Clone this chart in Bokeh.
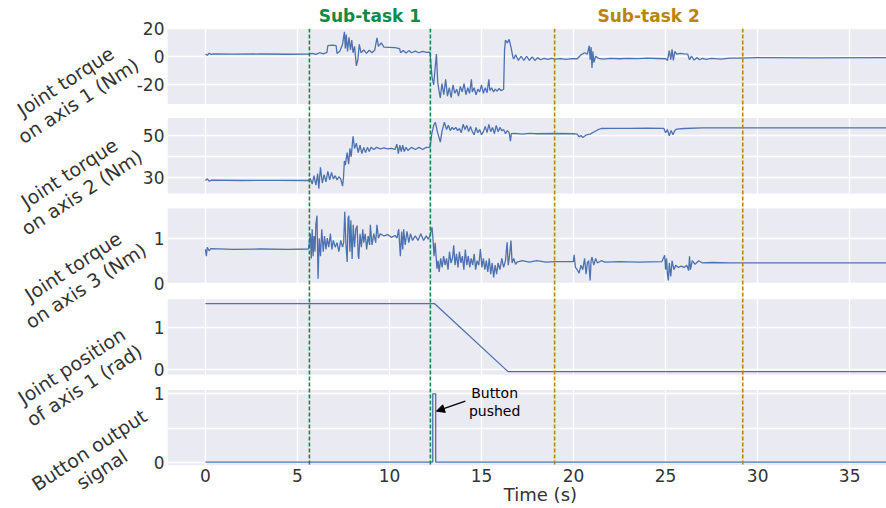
from bokeh.plotting import figure
from bokeh.models import Range1d, FixedTicker, Label, Span, Arrow, NormalHead
from bokeh.core.properties import value
from bokeh.embed import file_html
from bokeh.resources import INLINE

# ---------------- data ----------------
T_TQ1 = [0.0, 0.1, 0.2, 0.3, 0.45, 1.5, 3.0, 4.5, 5.6,
         5.8, 6.0, 6.2, 6.4, 6.6, 6.65, 6.9, 7.1,
         7.15, 7.3, 7.45, 7.55, 7.6, 7.65, 7.72, 7.8, 7.88, 7.95, 8.02, 8.1, 8.2, 8.28, 8.36, 8.45, 8.6, 8.75, 8.9,
         9.05, 9.2, 9.32, 9.4, 9.55, 9.7, 10.0, 10.3, 10.55, 10.6, 10.75, 10.9, 11.05, 11.2, 11.4, 11.6, 11.8, 12.0, 12.2,
         12.31, 12.4, 12.48, 12.55, 12.62, 12.7, 12.76, 12.85, 12.95, 13.05, 13.15, 13.25, 13.35, 13.45, 13.55, 13.65,
         13.75, 13.85, 13.95, 14.05, 14.15, 14.25, 14.35, 14.45, 14.5, 14.6, 14.7, 14.8, 14.9, 15.0, 15.1, 15.2, 15.3,
         15.4, 15.45, 15.55, 15.65, 15.75, 15.85, 15.95, 16.05, 16.15, 16.2,
         16.25, 16.3, 16.4, 16.5, 16.6, 16.7, 16.75, 16.85, 17.0, 17.15, 17.3, 17.45, 17.6, 17.75, 17.9, 18.05, 18.2,
         18.4, 18.6, 18.8, 19.0, 19.3, 19.6, 19.9, 20.2,
         20.4, 20.6, 20.75, 20.85, 20.9, 20.95, 21.0, 21.05, 21.1, 21.2, 21.35, 21.6, 22.0, 22.5, 23.0, 23.5, 24.0,
         24.5, 25.0, 25.1, 25.2, 25.28, 25.35, 25.42, 25.5, 25.6, 25.8, 26.0, 26.2, 26.3, 26.4, 26.55, 26.7, 26.85,
         27.0, 27.2, 27.5, 28.0, 28.5, 29.0, 30.0, 33.0, 37.5]
TQ1 = [2.0, 1.2, 2.6, 1.8, 2.2, 2.0, 2.1, 1.9, 2.0,
       2.6, 1.8, 3.0, 2.2, 3.2, 8.0, 8.5, 8.0,
       2.5, 4.0, 9.0, 18.0, 6.0, 16.0, 4.0, 14.0, 5.0, 12.0, 3.0, 7.5, -6.4, -2.0, 9.0, 3.0, 5.0, 2.5, 4.8,
       3.0, 5.0, 13.7, 7.5, 10.0, 7.0, 6.8, 6.6, 6.0, 3.0, 4.6, 2.8, 4.5, 3.0, 4.2, 3.0, 4.0, 3.2, 3.4,
       -14.3, -20.0, -8.0, 2.0, -18.0, -25.0, -29.3, -19.0, -27.0, -16.0, -28.0, -22.0, -29.0, -20.0, -26.0, -23.0,
       -28.0, -21.0, -25.0, -19.0, -27.0, -22.0, -26.0, -16.0, -25.0, -22.0, -27.0, -23.0, -25.0, -20.0, -26.0, -22.0, -25.5,
       -16.0, -24.0, -22.0, -25.0, -23.0, -24.5, -22.5, -24.0, -23.5, -23.0,
       5.0, 12.0, 10.0, 12.5, 7.0, 0.0, -1.5, 1.5, -2.5, 0.5, -2.5, 0.5, -2.5, 0.0, -2.5, -0.5, -2.0,
       -1.0, -1.8, -1.0, -1.6, -1.2, -1.8, -1.2, -1.3,
       1.5, 3.0, 2.0, 8.0, -2.0, 7.0, -7.8, 4.0, -4.0, 0.5, -1.0, -1.5, -1.0, -1.3, -1.0, -1.2, -0.9,
       -1.1, -1.3, -2.5, 4.5, -2.0, 5.4, -2.5, 4.0, 2.0, 2.5, 2.2, 2.0, -2.0, 0.5, -2.2, -0.5, -2.0,
       -1.0, -1.8, -1.0, -1.5, -0.8, -0.8, -0.5, -0.6, -0.5]

T_TQ2 = [0.0, 0.1, 0.2, 0.35, 2.0, 4.0, 5.6,
         5.7, 5.8, 5.9, 6.0, 6.1, 6.16, 6.25, 6.35, 6.45, 6.55, 6.65, 6.75, 6.85, 6.95, 7.05, 7.15, 7.25, 7.35, 7.45, 7.5,
         7.55, 7.6, 7.7, 7.78, 7.85, 7.92, 8.02, 8.1, 8.2, 8.3, 8.4, 8.5, 8.6, 8.7, 8.8, 8.9, 9.0, 9.15, 9.3, 9.5, 9.7,
         9.9, 10.1, 10.3, 10.4, 10.48, 10.56, 10.64, 10.72, 10.8, 10.9, 11.0, 11.2, 11.4, 11.6, 11.8, 12.0, 12.2,
         12.3, 12.4, 12.49, 12.6, 12.76, 12.85, 12.98, 13.1, 13.2, 13.3, 13.4, 13.5, 13.6, 13.7, 13.8, 13.9, 14.0, 14.1,
         14.2, 14.3, 14.4, 14.5, 14.6, 14.7, 14.8, 14.9, 15.0, 15.1, 15.2, 15.3, 15.4, 15.5, 15.6, 15.7, 15.8, 15.9,
         16.0, 16.1, 16.2, 16.3, 16.4, 16.5, 16.57, 16.62, 16.8, 17.2, 17.6, 18.0, 19.0, 20.0, 20.2, 20.3, 20.4, 20.5,
         20.7, 20.9, 21.1, 21.3, 21.5, 22.0, 23.0, 24.0, 24.9, 25.0, 25.1, 25.2, 25.3, 25.4, 25.5, 25.6, 26.0, 27.0, 37.5]
TQ2 = [28.7, 29.5, 28.4, 28.9, 28.7, 28.8, 28.7,
       29.5, 27.0, 31.0, 26.5, 32.0, 24.8, 35.0, 27.5, 31.5, 28.0, 33.0, 29.0, 32.5, 29.5, 31.0, 29.0, 30.5, 29.5, 26.0, 30.0,
       38.0, 36.0, 42.0, 36.5, 44.0, 40.0, 49.8, 44.0, 46.5, 42.0, 45.5, 41.5, 44.5, 42.0, 44.5, 42.5, 44.5, 43.5, 44.5, 43.8, 44.2,
       43.8, 44.0, 43.5, 46.0, 41.5, 45.5, 42.5, 45.5, 42.5, 44.5, 43.0, 44.5, 43.5, 44.5, 43.5, 44.5, 44.5,
       51.0, 55.0, 56.5, 52.0, 47.0, 52.0, 56.5, 53.0, 55.0, 52.5, 54.0, 53.0, 54.0, 52.5, 53.5, 51.5, 55.5, 53.0,
       55.0, 52.0, 54.5, 52.0, 50.5, 54.0, 51.5, 53.0, 50.5, 52.0, 54.5, 51.5, 55.5, 52.0, 54.0, 51.0, 55.0, 52.0,
       54.0, 52.5, 53.0, 51.0, 52.5, 51.5, 47.5, 51.0, 51.2, 50.8, 51.2, 51.0, 51.1, 51.0, 50.8, 49.5, 50.2, 49.2,
       50.5, 50.8, 51.8, 52.8, 53.5, 53.6, 53.6, 53.7, 53.6, 51.5, 53.0, 50.0, 52.5, 50.5, 52.5, 53.2, 53.5, 53.8, 53.8]

T_TQ3 = [0.0, 0.05, 0.1, 0.2, 0.3, 1.5, 3.0, 4.5, 5.6,
         5.7, 5.75, 5.8, 5.85, 5.9, 5.95, 6.0, 6.06, 6.12, 6.18, 6.25, 6.32, 6.4, 6.47, 6.55, 6.62, 6.7, 6.79, 6.87,
         6.95, 7.05, 7.15, 7.25, 7.35, 7.45, 7.51, 7.57, 7.63, 7.7, 7.75, 7.79, 7.85, 7.9, 7.97, 8.03, 8.1, 8.17, 8.24,
         8.3, 8.33, 8.4, 8.47, 8.55, 8.6, 8.68, 8.76, 8.84, 8.92, 8.96, 9.05, 9.15, 9.25, 9.32, 9.4, 9.5, 9.7, 9.9,
         10.1, 10.3, 10.41, 10.5, 10.59, 10.66, 10.72, 10.77, 10.85, 10.95, 11.05, 11.14, 11.25, 11.4, 11.55, 11.7,
         11.85, 12.0, 12.1, 12.2,
         12.31, 12.36, 12.42, 12.48, 12.58, 12.64, 12.7, 12.78, 12.86, 12.94, 13.02, 13.1, 13.18, 13.26, 13.34, 13.42,
         13.49, 13.56, 13.64, 13.72, 13.8, 13.88, 13.96, 14.04, 14.12, 14.2, 14.28, 14.36, 14.44, 14.52, 14.6, 14.68,
         14.76, 14.85, 14.94, 15.02, 15.1, 15.18, 15.26, 15.34, 15.42, 15.5, 15.58, 15.66, 15.74, 15.82, 15.9, 16.0,
         16.1, 16.2, 16.3, 16.39, 16.45, 16.52, 16.6, 16.66, 16.75, 16.85, 16.93, 17.2, 17.6, 18.0, 18.5, 19.0, 19.99,
         20.03, 20.1, 20.2, 20.3, 20.4, 20.5, 20.6, 20.68, 20.75, 20.82, 20.9, 20.95, 21.0, 21.1, 21.2, 21.3, 21.5,
         21.7, 22.5, 23.5, 24.8, 24.95, 25.0, 25.05, 25.1, 25.15, 25.2, 25.28, 25.35, 25.45, 25.55, 25.7, 25.85, 26.0,
         26.15, 26.25, 26.3, 26.35, 26.45, 26.6, 26.8, 27.0, 27.5, 28.5, 30.0, 37.5]
TQ3 = [0.75, 0.6, 0.8, 0.72, 0.77, 0.75, 0.76, 0.75, 0.76,
       1.1, 0.55, 1.2, 0.6, 1.05, 0.7, 1.3, 1.5, 0.1, 1.0, 0.6, 1.2, 0.7, 1.05, 0.75, 1.0, 0.8, 1.1, 0.75,
       0.95, 0.8, 0.9, 0.7, 0.95, 0.8, 0.9, 1.59, 0.9, 0.47, 1.45, 1.5, 0.7, 1.4, 0.54, 1.3, 0.8, 1.2, 1.28,
       0.6, 0.54, 1.1, 0.8, 1.2, 0.9, 1.1, 0.75, 1.05, 0.85, 1.3, 0.85, 1.1, 0.9, 1.3, 1.0, 1.1, 1.05, 1.08,
       1.02, 1.06, 1.0, 1.2, 0.6, 1.15, 0.75, 1.2, 0.85, 1.15, 0.9, 1.1, 0.95, 1.05, 0.95, 1.1,
       0.95, 1.05, 0.98, 1.05,
       1.24, 1.0, 0.6, 0.9, 0.32, 0.5, 0.25, 0.55, 0.35, 0.6, 0.4, 0.55, 0.3, 0.7, 0.45, 0.55,
       0.84, 0.4, 0.65, 0.35, 0.7, 0.45, 0.6, 0.3, 0.75, 0.4, 0.6, 0.35, 0.55, 0.4, 0.65, 0.3,
       0.5, 0.4, 0.76, 0.35, 0.55, 0.3, 0.5, 0.25, 0.55, 0.2, 0.45, 0.13, 0.4, 0.2, 0.45, 0.3,
       0.55, 0.35, 0.5, 0.91, 0.4, 0.6, 0.95, 0.45, 0.55, 0.42, 0.47, 0.5, 0.47, 0.5, 0.47, 0.48, 0.48,
       0.63, 0.35, 0.3, 0.22, 0.4, 0.3, 0.55, 0.2, 0.45, 0.5, 0.06, 0.5, 0.58, 0.4, 0.55, 0.45, 0.5,
       0.47, 0.48, 0.47, 0.48, 0.62, 0.3, 0.55, 0.2, 0.06, 0.45, 0.15, 0.5, 0.3, 0.4, 0.35, 0.38, 0.35,
       0.4, 0.28, 0.6, 0.3, 0.5, 0.42, 0.5, 0.45, 0.46, 0.45, 0.45, 0.45]

T_POS = [0.0, 12.44, 16.44, 37.5]
POS = [1.57, 1.57, -0.05, -0.05]

T_BTN = [0.0, 12.35, 12.35, 12.51, 12.51, 37.5]
BTN = [0, 0, 1, 1, 0, 0]

SUBTASK_1 = [5.65, 12.22]
SUBTASK_2 = [18.97, 29.19]
SUBTASK_NAMES = ["Sub-task 1", "Sub-task 2"]

X_TICKS = [0, 5, 10, 15, 20, 25, 30, 35]
X_LIMITS = (-2.06, 37.0)
X_TITLE = "Time (s)"

PANEL_LIMITS = [(-33.6, 20.3), (22.5, 58.5), (-0.018, 1.66), (-0.126, 1.671), (-0.048, 1.056)]
PANEL_TICKS = [[-20, 0, 20], [30, 50], [0, 1], [0, 1], [0, 1]]
PANEL_MINOR = [[], [40], [], [], [0.5]]
PANEL_LABELS = ["Joint torque\non axis 1 (Nm)", "Joint torque\non axis 2 (Nm)",
                "Joint torque\non axis 3 (Nm)", "Joint position\nof axis 1 (rad)",
                "Button output\nsignal"]

# ---------------- style / layout ----------------
FONT = "DejaVu Sans"
BLUE = "#4C72B0"
BG = "#EAEAF2"
GREEN = "#10894a"
GOLD = "#b8860b"
TXT = "#333333"

W, H = 886, 508
FRAME_LEFT, FRAME_TOP = 167, 28
FRAME_W, FRAME_H = 719, 437
BAND_TOPS = [0, 89.5, 180, 270.8, 361.5]     # px below frame top
BAND_H = 75.5
LABEL_XY = [(71.3, 90.4), (75, 182), (78.8, 275.4), (77.5, 375), (95, 459)]  # page px (centres)
SUBTASK_Y = 15.5
XTITLE_Y = 494

main = figure(frame_width=FRAME_W, frame_height=FRAME_H,
              min_border_left=FRAME_LEFT, min_border_right=0, min_border_top=FRAME_TOP,
              min_border_bottom=H - FRAME_TOP - FRAME_H,
              x_range=Range1d(*X_LIMITS), y_range=Range1d(0, FRAME_H),
              output_backend="svg", toolbar_location=None)
main.outline_line_color = None
main.background_fill_color = "white"
main.border_fill_color = "white"

bands_top = [FRAME_H - t for t in BAND_TOPS]
bands_bot = [t - BAND_H for t in bands_top]
main.quad(left=X_LIMITS[0], right=X_LIMITS[1], bottom=bands_bot, top=bands_top,
          fill_color=BG, line_color=None, level="image")

tick_pos, tick_lab, grid_pos = [], {}, []
series = [(T_TQ1, TQ1), (T_TQ2, TQ2), (T_TQ3, TQ3), (T_POS, POS), (T_BTN, BTN)]
for k, ((d0, d1), ticks, minor) in enumerate(zip(PANEL_LIMITS, PANEL_TICKS, PANEL_MINOR)):
    bot, top = bands_bot[k], bands_top[k]
    scale = (d1 - d0) / BAND_H
    name = f"p{k+1}"
    main.extra_y_ranges[name] = Range1d(d0 - bot * scale, d1 + (FRAME_H - top) * scale)
    for v in ticks:
        pos = round(bot + (v - d0) / scale, 3)
        tick_pos.append(pos)
        tick_lab[pos] = str(v)
        grid_pos.append(pos)
    for v in minor:
        grid_pos.append(round(bot + (v - d0) / scale, 3))
    xs, ys = series[k]
    main.line(xs, ys, y_range_name=name, line_color=BLUE, line_width=1.3)

main.yaxis.ticker = FixedTicker(ticks=tick_pos)
main.yaxis.major_label_overrides = tick_lab
main.xaxis.ticker = FixedTicker(ticks=X_TICKS)
for ax in (main.xaxis, main.yaxis):
    ax.axis_line_color = None
    ax.major_tick_line_color = None
    ax.minor_tick_line_color = None
    ax.major_tick_out = 0
    ax.major_tick_in = 0
    ax.minor_tick_out = 0
    ax.minor_tick_in = 0
    ax.major_label_text_font = FONT
    ax.major_label_text_font_size = "17px"
    ax.major_label_text_color = TXT
main.yaxis.major_label_standoff = 3
main.xaxis.major_label_standoff = 3

main.xgrid.grid_line_color = "white"
main.xgrid.grid_line_width = 1.3
main.ygrid.ticker = FixedTicker(ticks=grid_pos)
main.ygrid.grid_line_color = "white"
main.ygrid.grid_line_width = 1.3

for xs, col in ((SUBTASK_1, GREEN), (SUBTASK_2, GOLD)):
    for x in xs:
        main.add_layout(Span(location=x, dimension="height", line_color=col,
                             line_dash="4 2", line_width=1.6))

main.add_layout(Arrow(end=NormalHead(size=8, fill_color="black", line_color="black"),
                      x_start=14.12, y_start=0.892, x_end=12.55, y_end=0.746,
                      y_range_name="p5", line_color="black", line_width=1.3))
main.add_layout(Label(x=15.71, y=1.009, y_range_name="p5", text="Button", text_align="center",
                      text_baseline="middle", text_font=FONT, text_font_size="14px", text_color="black"))
main.add_layout(Label(x=15.71, y=0.756, y_range_name="p5", text="pushed", text_align="center",
                      text_baseline="middle", text_font=FONT, text_font_size="14px", text_color="black"))

# ---- transparent overlay (separate root, pinned at page origin) for texts outside the frame ----
over = figure(width=W, height=H, x_range=Range1d(0, W), y_range=Range1d(H, 0),
              min_border=0, min_border_left=0, min_border_right=0, min_border_top=0, min_border_bottom=0,
              x_axis_type=None, y_axis_type=None,
              output_backend="svg", toolbar_location=None)
over.outline_line_color = None
over.background_fill_color = None
over.border_fill_color = None
over.grid.visible = False


def page_x(t):
    return FRAME_LEFT + (t - X_LIMITS[0]) / (X_LIMITS[1] - X_LIMITS[0]) * FRAME_W


over.text(x=[xy[0] for xy in LABEL_XY], y=[xy[1] for xy in LABEL_XY], text=PANEL_LABELS,
          angle=33, angle_units="deg", text_align="center", text_baseline="middle",
          text_font=value(FONT), text_font_size="19px", text_color=TXT, text_line_height=1.05)

over.text(x=[page_x(sum(SUBTASK_1) / 2), page_x(sum(SUBTASK_2) / 2)], y=[SUBTASK_Y, SUBTASK_Y],
          text=SUBTASK_NAMES, text_align="center", text_baseline="middle",
          text_font=value(FONT), text_font_size="17px", text_font_style="bold",
          text_color=[GREEN, GOLD])

over.text(x=[page_x(18.2)], y=[XTITLE_Y], text=[X_TITLE], text_align="center", text_baseline="middle",
          text_font=value(FONT), text_font_size="18px", text_color=TXT)

over.styles = {"position": "absolute", "top": "0px", "left": "0px"}

p = [main, over]
open("out.html", "w").write(file_html(p, INLINE))
